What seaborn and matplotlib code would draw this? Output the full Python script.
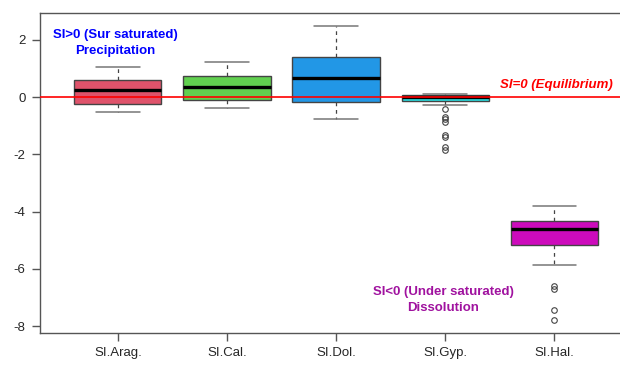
import seaborn as sns
import pandas as pd
import matplotlib.pyplot as plt

# saturation index readings per mineral
si_arag = [-0.52, -0.40, -0.24, 0.05, 0.25, 0.42, 0.60, 0.85, 1.05]
si_cal = [-0.38, -0.25, -0.10, 0.15, 0.35, 0.55, 0.73, 0.98, 1.22]
si_dol = [-0.77, -0.45, -0.17, 0.30, 0.66, 1.00, 1.39, 1.95, 2.50]
si_gyp = [-1.84, -1.76, -1.40, -1.32, -0.86, -0.78, -0.70, -0.41,
          -0.29, -0.12, -0.11, -0.10, -0.09, -0.08, -0.06, -0.05,
          -0.04, -0.02, -0.01, 0.00, 0.00, 0.01, 0.02, 0.03,
          0.04, 0.05, 0.05, 0.06, 0.06, 0.07, 0.07, 0.08,
          0.08, 0.09, 0.09, 0.10, 0.10]
si_hal = [-7.79, -7.42, -6.72, -6.61, -5.86, -5.17, -5.05, -4.90,
          -4.80, -4.70, -4.61, -4.55, -4.48, -4.42, -4.36, -4.32,
          -4.20, -4.10, -4.00, -3.90, -3.79]

labels = ["SI.Arag.", "SI.Cal.", "SI.Dol.", "SI.Gyp.", "SI.Hal."]
colors = ["#DF536B", "#61D04F", "#2297E6", "#28E2E5", "#CD0BBC"]

df = pd.concat([
    pd.DataFrame({"index": lab, "SI": vals})
    for lab, vals in zip(labels, [si_arag, si_cal, si_dol, si_gyp, si_hal])
])

sns.set_style("white")
plt.rcParams["font.family"] = ["Liberation Sans", "DejaVu Sans"]
plt.rcParams["axes.unicode_minus"] = False

fig = plt.figure(figsize=(6.2, 3.65), dpi=100)
ax = fig.add_axes([0.065, 0.0885, 0.935, 0.876])

edge = "#444444"
sns.boxplot(data=df, x="index", y="SI", hue="index", palette=colors,
            legend=False, width=0.8, whis=1.5, linecolor=edge, linewidth=1,
            saturation=1, ax=ax, capwidths=0.4,
            medianprops=dict(color="black", linewidth=2.4),
            whiskerprops=dict(linestyle=(0, (3, 3)), color=edge, linewidth=0.9),
            capprops=dict(color="#777777", linewidth=1.1),
            flierprops=dict(marker="o", markersize=4, markerfacecolor="none",
                            markeredgecolor="#444444", markeredgewidth=0.8))

ax.axhline(0, color="red", linewidth=1.2, zorder=6)

ax.set_xlim(-0.71, 4.6)
ax.set_ylim(-8.23, 2.94)
ax.set_yticks([2, 0, -2, -4, -6, -8])
ax.set_xlabel("")
ax.set_ylabel("")
for s in ["left", "bottom", "top"]:
    ax.spines[s].set_color("#555555")
    ax.spines[s].set_linewidth(1)
ax.spines["right"].set_visible(False)
ax.tick_params(axis="both", direction="out", length=5.5, width=1,
               color="#555555", labelsize=9.5, pad=5, left=True, bottom=True)

ax.text(-0.02, 1.89, "SI>0 (Sur saturated)\nPrecipitation", color="blue",
        fontsize=9.5, fontweight="bold", ha="center", va="center",
        linespacing=1.45)
ax.text(4.53, 0.43, "SI=0 (Equilibrium)", color="red", fontsize=9.5,
        fontweight="bold", fontstyle="italic", ha="right", va="center")
ax.text(2.98, -7.1, "SI<0 (Under saturated)\nDissolution", color="#A0129F",
        fontsize=9.5, fontweight="bold", ha="center", va="center",
        linespacing=1.45)

fig.savefig("out.png", dpi=100)
